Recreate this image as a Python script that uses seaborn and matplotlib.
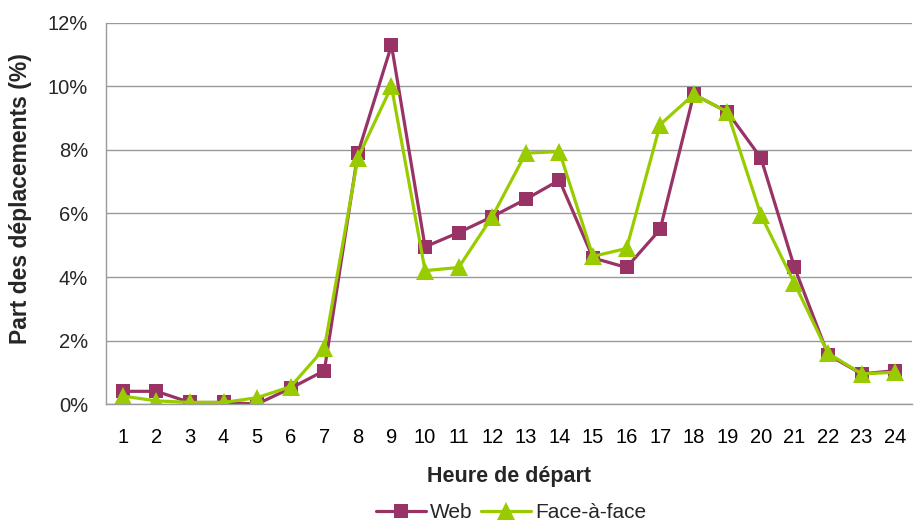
import pandas as pd
import matplotlib
matplotlib.use('Agg')
import matplotlib.pyplot as plt
import seaborn as sns
from matplotlib.ticker import FuncFormatter, MultipleLocator

# Heure de départ (1..24)
heures = list(range(1, 25))

# Part des déplacements (%)
web = [0.4, 0.4, 0.05, 0.05, 0.0, 0.5, 1.05, 7.9, 11.3, 4.95, 5.4, 5.9,
       6.45, 7.05, 4.6, 4.3, 5.5, 9.75, 9.2, 7.75, 4.3, 1.55, 0.95, 1.05]
face = [0.25, 0.1, 0.05, 0.05, 0.2, 0.55, 1.75, 7.75, 10.0, 4.2, 4.3, 5.9,
        7.9, 7.95, 4.65, 4.9, 8.8, 9.75, 9.2, 5.95, 3.8, 1.6, 0.95, 1.0]

series = ['Web', 'Face-à-face']
colors = {'Web': '#993366', 'Face-à-face': '#99cc00'}

df = pd.DataFrame({
    'heure': heures * 2,
    'part': web + face,
    'mode': ['Web'] * len(heures) + ['Face-à-face'] * len(heures),
})

sns.set_style('white')
plt.rcParams['font.family'] = ['Liberation Sans', 'DejaVu Sans']

fig = plt.figure(figsize=(9.18, 5.22), dpi=100)
ax = fig.add_axes([0.1155, 0.226, 0.878, 0.730])

sns.lineplot(data=df, x='heure', y='part', hue='mode', style='mode',
             hue_order=series, style_order=series, palette=colors,
             markers={'Web': 's', 'Face-à-face': '^'}, dashes=False,
             linewidth=2.3, markersize=10.5, markeredgewidth=0, ax=ax)
# triangles un peu plus grands que les carrés
for line in ax.lines:
    if line.get_marker() == '^':
        line.set_markersize(12.5)

ax.set_xlim(0.5, 24.5)
ax.set_ylim(0, 12)
ax.yaxis.set_major_locator(MultipleLocator(2))
ax.yaxis.set_major_formatter(FuncFormatter(lambda v, p: f'{v:.0f}%'))
ax.set_xticks(heures)
ax.set_xticks([h + 0.5 for h in range(0, 25)], minor=True)
ax.tick_params(axis='x', which='major', length=0, labelsize=14.5, pad=17, colors='black')
ax.tick_params(axis='x', which='minor', length=6, width=1, color='#999999', direction='out')
ax.tick_params(axis='y', which='major', length=6, width=1, color='#999999', labelsize=14.5, pad=7, direction='out')

ax.grid(axis='y', color='#999999', linewidth=1)
ax.grid(axis='x', visible=False)
for side in ['top', 'right']:
    ax.spines[side].set_visible(False)
for side in ['left', 'bottom']:
    ax.spines[side].set_color('#999999')
    ax.spines[side].set_linewidth(1)

ax.set_xlabel('Heure de départ', fontsize=15.5, fontweight='bold', labelpad=14)
ax.set_ylabel('Part des déplacements (%)', fontsize=16.5, fontweight='bold')
ax.yaxis.set_label_coords(-0.092, 0.54)

handles, labels = ax.get_legend_handles_labels()
ax.legend(handles, labels, loc='center', bbox_to_anchor=(0.557, 0.018),
          bbox_transform=fig.transFigure, ncol=2, frameon=False,
          fontsize=15, handlelength=2.4, columnspacing=0.4, handletextpad=0.2,
          borderpad=0)

fig.savefig('out.png', dpi=100)
